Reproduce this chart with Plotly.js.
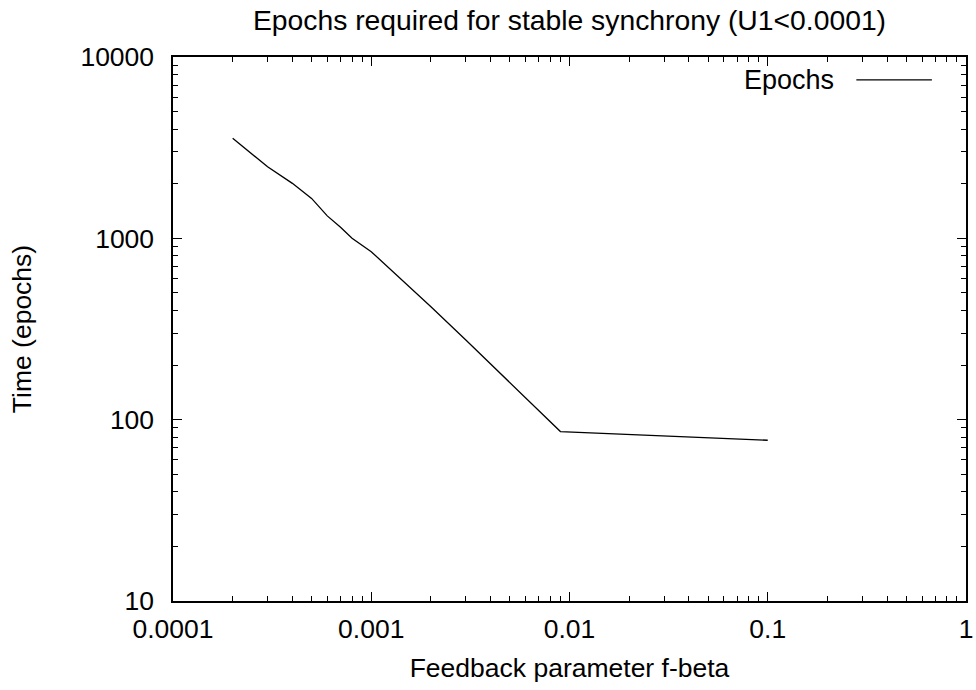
<!DOCTYPE html>
<html>
<head>
<meta charset="utf-8">
<script src="https://cdn.plot.ly/plotly-3.0.1.min.js"></script>
<style>html,body{margin:0;padding:0;background:#fff}#chart{width:976px;height:690px}</style>
</head>
<body>
<div id="chart"></div>
<script>
// Data
var fbeta  = [0.0002, 0.0003, 0.0004, 0.0005, 0.0006, 0.0007, 0.0008, 0.001, 0.002, 0.003, 0.009, 0.1];
var epochs = [3565,   2480,   2010,   1660,   1330,   1150,   1000,   844,   420,   275,   86,    77];

var xTickVals = [0.0001, 0.001, 0.01, 0.1, 1];
var xTickText = ["0.0001", "0.001", "0.01", "0.1", "1"];
var yTickVals = [10, 100, 1000, 10000];
var yTickText = ["10", "100", "1000", "10000"];

var seriesName = "Epochs";
var chartTitle = "Epochs required for stable synchrony (U1<0.0001)";
var xTitle = "Feedback parameter f-beta";
var yTitle = "Time (epochs)";

var FONT = "Liberation Sans, Arial, sans-serif";

var trace = {
  x: fbeta, y: epochs, type: "scatter", mode: "lines",
  name: seriesName,
  line: {color: "#000", width: 1.3},
  showlegend: false
};

var axisCommon = {
  type: "log",
  showline: true, linecolor: "#000", linewidth: 1.6,
  mirror: "ticks",
  ticks: "inside", ticklen: 9, tickwidth: 1.2, tickcolor: "#000",
  showgrid: false, zeroline: false,
  tickfont: {family: FONT, size: 26.5, color: "#000"},
  minor: {ticks: "inside", ticklen: 5, tickwidth: 1, tickcolor: "#000", dtick: "D1", showgrid: false}
};

var layout = {
  width: 976, height: 690,
  margin: {l: 172.5, r: 9.5, t: 57, b: 89, pad: 0},
  paper_bgcolor: "#fff", plot_bgcolor: "#fff",
  font: {family: FONT, size: 26.5, color: "#000"},
  title: {
    text: chartTitle,
    font: {family: FONT, size: 28.3, color: "#000"},
    xref: "paper", x: 0.5, xanchor: "center",
    yref: "container", y: 0.971, yanchor: "middle"
  },
  xaxis: Object.assign({}, axisCommon, {
    range: [-4, 0], tickmode: "array", tickvals: xTickVals, ticktext: xTickText,
    ticklabelstandoff: 4,
    title: {text: xTitle, font: {family: FONT, size: 26.5, color: "#000"}, standoff: 15}
  }),
  yaxis: Object.assign({}, axisCommon, {
    range: [1, 4], tickmode: "array", tickvals: yTickVals, ticktext: yTickText,
    ticklabelstandoff: 12,
    title: {text: yTitle, font: {family: FONT, size: 26.5, color: "#000"}, standoff: 41}
  }),
  annotations: [{
    xref: "paper", yref: "paper", x: 0.8365, y: 0.958,
    xanchor: "right", yanchor: "middle", showarrow: false,
    text: seriesName, font: {family: FONT, size: 27, color: "#000"}
  }],
  shapes: [{
    type: "line", xref: "paper", yref: "paper",
    x0: 0.8617, x1: 0.957, y0: 0.958, y1: 0.958,
    line: {color: "#000", width: 1.3}
  }]
};

Plotly.newPlot("chart", [trace], layout, {staticPlot: true, displayModeBar: false});
</script>
</body>
</html>
